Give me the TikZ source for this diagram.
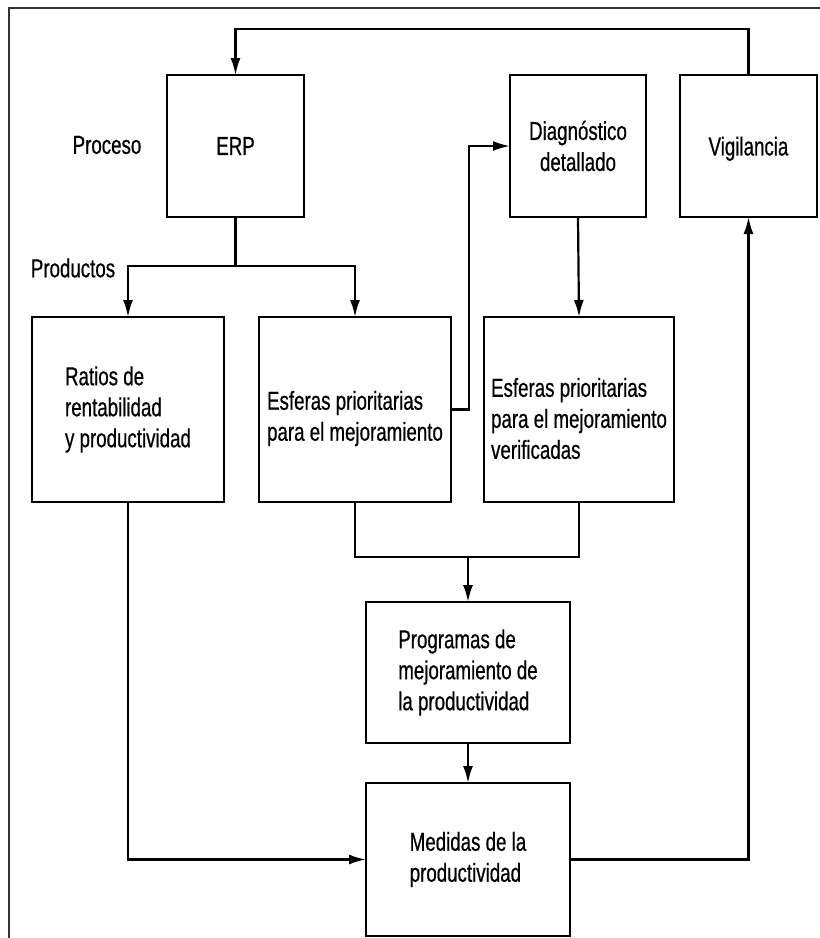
\documentclass[tikz,border=0pt]{standalone}
\usepackage{fontspec}
\setmainfont{Liberation Sans}[FakeStretch=0.72,FakeBold=0.6]
\usetikzlibrary{arrows.meta}
\begin{document}
\begin{tikzpicture}[x=1pt,y=-1pt,
  every node/.style={font=\fontsize{26}{31}\selectfont},
  blk/.style={draw, line width=2.6pt, inner sep=0pt, outer sep=0pt, align=left},
  lbl/.style={inner sep=0pt},
  inner/.style={lbl, align=left, yshift=-9pt},
  link/.style={line width=2.2pt},
  arr/.style={link, -{Latex[length=17pt,width=10pt]}}]
  \useasboundingbox (0,0) rectangle (820,938);
  % open frame: top and left edges only
  \draw[line width=2pt, black!80] (9,938) -- (9,8) -- (820,8);

  % boxes
  \node[blk, minimum width=137, minimum height=142] (erp)  at (235.5,146) {ERP};
  \node[blk, minimum width=136, minimum height=142, align=center] (diag) at (578,146) {Diagnóstico\\detallado};
  \node[blk, minimum width=137, minimum height=142, text depth=0pt] (vig)  at (748.5,146) {Vigilancia};
  \node[blk, minimum width=192, minimum height=185] (rat)  at (128,409.5) {Ratios de\\rentabilidad\\y productividad};
  \node[blk, minimum width=192, minimum height=185,
        label={[inner]center:Esferas prioritarias\\para el mejoramiento}] (esf) at (355,409.5) {};
  \node[blk, minimum width=190, minimum height=185,
        label={[inner]center:Esferas prioritarias\\para el mejoramiento\\verificadas}] (ver) at (579,409.5) {};
  \node[blk, minimum width=204, minimum height=141] (prog) at (468,672.5) {Programas de\\mejoramiento de\\la productividad};
  \node[blk, minimum width=204, minimum height=153] (med)  at (468,859.5) {Medidas de la\\productividad};

  % side labels
  \node[lbl] (proc) at (107,145) {Proceso};
  \node[lbl] (prod) at (73,268) {Productos};

  % routing levels
  \coordinate (toplvl) at (0,29);
  \coordinate (prodlvl) at (0,266);
  \coordinate (joinx) at (469,0);
  \coordinate (mergelvl) at (0,557);

  % feedback from Vigilancia to ERP
  \draw[arr] (vig.north) -- (vig.north |- toplvl) -| (erp.north);
  % ERP products
  \draw[link] (erp.south) -- (erp.south |- prodlvl);
  \draw[arr] (erp.south |- prodlvl) -| (rat.north);
  \draw[arr] (erp.south |- prodlvl) -| (esf.north);
  % detailed diagnosis
  \draw[arr] (esf.east) -| (joinx |- diag.west) -- (diag.west);
  \draw[arr] (diag.south) -- (ver.north);
  % merge into programmes
  \draw[link] (esf.south) |- (ver.south |- mergelvl) -- (ver.south);
  \draw[arr] (prog.north |- mergelvl) -- (prog.north);
  \draw[arr] (prog.south) -- (med.north);
  % measures
  \draw[arr] (rat.south) |- (med.west);
  \draw[arr] (med.east) -| (vig.south);
\end{tikzpicture}
\end{document}
